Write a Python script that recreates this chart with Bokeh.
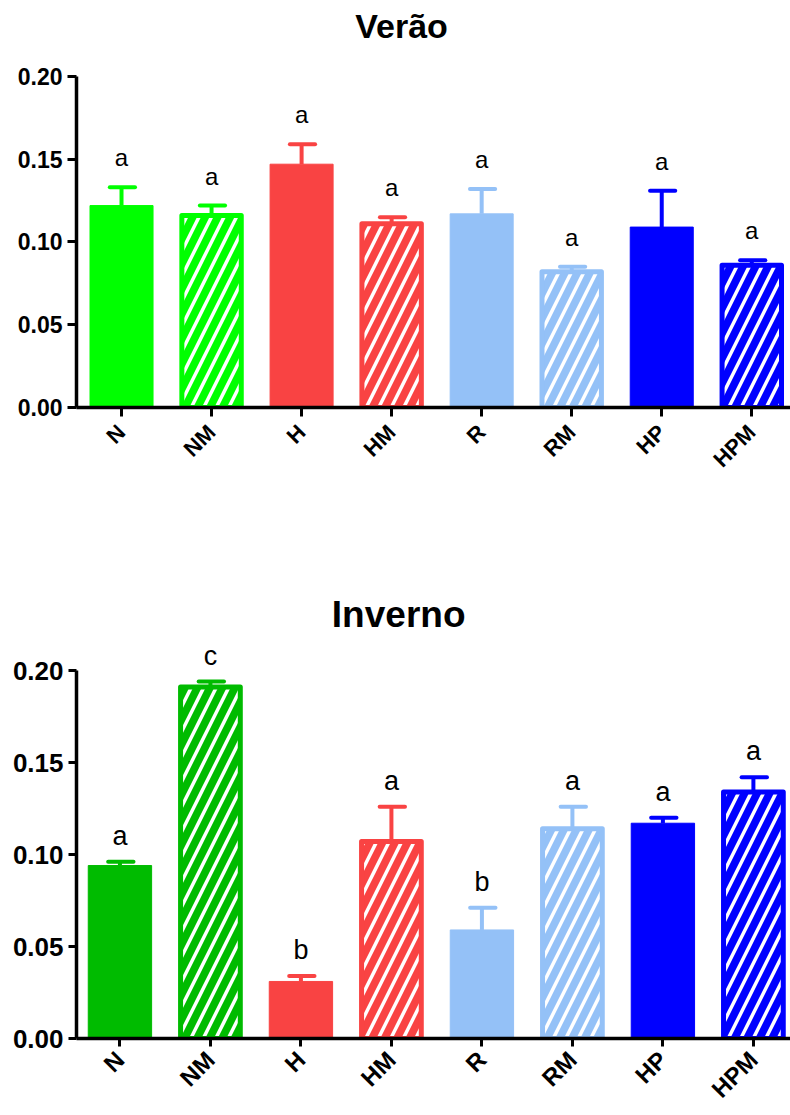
from bokeh.plotting import figure
from bokeh.models import (ColumnDataSource, Range1d, FixedTicker, LabelSet,
                          Label, PrintfTickFormatter)
from bokeh.core.properties import value
from bokeh.layouts import column
from bokeh.embed import file_html
from bokeh.resources import INLINE
import math

categories = ["N", "NM", "H", "HM", "R", "RM", "HP", "HPM"]
hatched = [False, True, False, True, False, True, False, True]

verao_mean = [0.122, 0.116, 0.147, 0.111, 0.117, 0.082, 0.109, 0.086]
verao_upper = [0.133, 0.122, 0.159, 0.115, 0.132, 0.085, 0.131, 0.089]
verao_letters = ["a", "a", "a", "a", "a", "a", "a", "a"]
verao_colors = ["#00FF00", "#00FF00", "#F94343", "#F94343",
                "#94C1F7", "#94C1F7", "#0000FF", "#0000FF"]

inverno_mean = [0.094, 0.191, 0.031, 0.107, 0.059, 0.114, 0.117, 0.134]
inverno_upper = [0.096, 0.194, 0.034, 0.126, 0.071, 0.126, 0.120, 0.142]
inverno_letters = ["a", "c", "b", "a", "b", "a", "a", "a"]
inverno_colors = ["#00BB00", "#00BB00", "#F94343", "#F94343",
                  "#94C1F7", "#94C1F7", "#0000FF", "#0000FF"]

y_ticks = [0.0, 0.05, 0.10, 0.15, 0.20]
FONT = "Liberation Sans"


def make_panel(title, means, uppers, letters, colors, height, border_left,
               border_bottom, x_start, x_end, y_end, title_x, title_y,
               title_size, tick_size, xlab_size, letter_size, letter_offset,
               tick_out, xlab_standoff):
    xs = list(range(len(categories)))
    src = ColumnDataSource(dict(
        x=xs, top=means, upper=uppers, letter=letters, color=colors,
        width=[0.66 if h else 0.70 for h in hatched],
        lw=[5 if h else 1 for h in hatched],
        hatch=["/" if h else " " for h in hatched],
        cap0=[x - 0.13 for x in xs], cap1=[x + 0.15 for x in xs],
    ))
    p = figure(width=790, height=height, output_backend="svg",
               toolbar_location=None, x_range=Range1d(x_start, x_end),
               y_range=Range1d(0, y_end), min_border_left=border_left,
               min_border_right=0, min_border_top=0,
               min_border_bottom=border_bottom)
    p.outline_line_color = None
    p.xgrid.visible = False
    p.ygrid.visible = False
    p.background_fill_color = "white"
    p.border_fill_color = "white"

    # error bars (upper only)
    p.segment(x0="x", y0="top", x1="x", y1="upper", source=src,
              line_color="color", line_width=4)
    p.segment(x0="cap0", y0="upper", x1="cap1", y1="upper", source=src,
              line_color="color", line_width=4, line_cap="round")
    # bars
    p.vbar(x="x", top="top", bottom=0, width="width", source=src,
           fill_color="color", line_color="color", line_width="lw",
           line_join="round", hatch_pattern="hatch", hatch_color="white",
           hatch_weight=3.5, hatch_scale=25)

    labels = LabelSet(x="x", y="upper", text="letter", source=src,
                      text_align="center", text_baseline="alphabetic",
                      y_offset=letter_offset, text_font_size=letter_size,
                      text_font=value(FONT), text_color="black")
    p.add_layout(labels)

    p.add_layout(Label(x=title_x, y=title_y, text=title, text_align="center",
                       text_baseline="alphabetic", text_font=FONT,
                       text_font_style="bold", text_font_size=title_size,
                       text_color="black"))

    for ax in (p.xaxis[0], p.yaxis[0]):
        ax.axis_line_width = 3.5
        ax.axis_line_color = "black"
        ax.major_tick_line_width = 3
        ax.major_tick_line_color = "black"
        ax.major_tick_out = tick_out
        ax.major_tick_in = 0
        ax.minor_tick_line_color = None
        ax.major_label_text_font = FONT
        ax.major_label_text_font_style = "bold"
        ax.major_label_text_color = "black"

    p.yaxis.bounds = (0, 0.2)
    p.yaxis.ticker = FixedTicker(ticks=y_ticks)
    p.yaxis.formatter = PrintfTickFormatter(format="%.2f")
    p.yaxis.major_label_text_font_size = tick_size
    p.yaxis.major_label_standoff = 5

    p.xaxis.ticker = FixedTicker(ticks=xs)
    p.xaxis.major_label_overrides = {i: c for i, c in enumerate(categories)}
    p.xaxis.major_label_orientation = math.pi / 4
    p.xaxis.major_label_text_font_size = xlab_size
    p.xaxis.major_label_standoff = xlab_standoff
    return p


p1 = make_panel("Verão", verao_mean, verao_upper, verao_letters, verao_colors,
                height=555, border_left=72, border_bottom=148,
                x_start=-0.5, x_end=7.43, y_end=0.2459, title_x=3.11,
                title_y=0.2305, title_size="34px", tick_size="23px",
                xlab_size="22px", letter_size="24px", letter_offset=21,
                tick_out=9, xlab_standoff=12)
p2 = make_panel("Inverno", inverno_mean, inverno_upper, inverno_letters,
                inverno_colors, height=560, border_left=76, border_bottom=77,
                x_start=-0.48, x_end=7.41, y_end=0.2625, title_x=3.08,
                title_y=0.2302, title_size="37px", tick_size="26px",
                xlab_size="24px", letter_size="27px", letter_offset=17,
                tick_out=8, xlab_standoff=9)

layout = column(p1, p2, spacing=0)
open("out.html", "w").write(file_html(layout, INLINE))
